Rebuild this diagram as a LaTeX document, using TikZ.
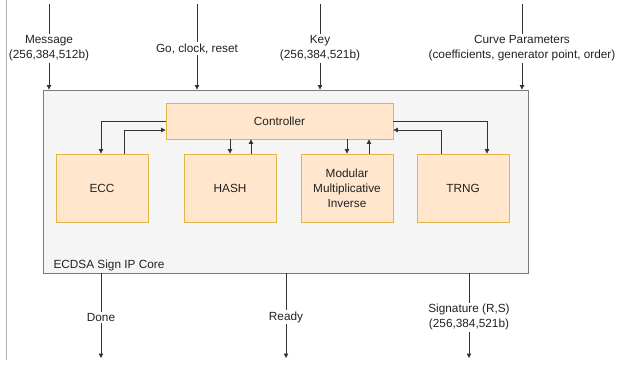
\documentclass[tikz,border=0pt]{standalone}
\usepackage{fontspec}
\setmainfont{Liberation Sans}
\usetikzlibrary{arrows.meta,calc}
\definecolor{corefill}{HTML}{F5F5F5}
\definecolor{coreline}{HTML}{7A7A7A}
\definecolor{blockfill}{HTML}{FFE6CC}
\definecolor{blockline}{HTML}{E3B448}
\definecolor{wire}{HTML}{333333}
\definecolor{txt}{HTML}{222222}
\tikzset{
  core/.style={draw=coreline, fill=corefill, line width=0.9pt, minimum width=485pt, minimum height=183pt, inner sep=0pt},
  block/.style={draw=blockline, fill=blockfill, line width=0.9pt, minimum width=92pt, minimum height=68pt, inner sep=0pt, align=center, text=txt},
  wirearrow/.style={draw=wire, line width=0.8pt, -{Triangle[length=4.5pt,width=4.5pt]}},
  sig/.style={fill=white, align=center, text=txt, inner sep=1.5pt},
}
\begin{document}
\begin{tikzpicture}[x=1pt,y=-1pt, font=\fontsize{11.8}{15}\selectfont]
\useasboundingbox (0,0) rectangle (618,367);
\fill[white] (0,0) rectangle (618,367);
% page edge on the left
\draw[draw=black!30, line width=0.8pt] (6,0) -- (6,360);

% the IP core and its blocks
\node[core] (core) at (285.5,181.5) {};
\node[anchor=base west, text=txt] (corelabel) at (50,268) {ECDSA Sign IP Core};
\node[block, minimum width=227pt, minimum height=36pt] (ctrl) at (279.5,121) {Controller};
\node[block] (ecc) at (102,188) {ECC};
\node[block] (hash) at (230,188) {HASH};
\node[block] (mmi) at (347,188) {Modular\\Multiplicative\\Inverse};
\node[block] (trng) at (463,188) {TRNG};

% taps on the block tops
\coordinate (eccdn) at ($(ecc.north)+(-1,0)$);
\coordinate (eccup) at ($(ecc.north)+(22,0)$);
\coordinate (hashup) at ($(hash.north)+(21,0)$);
\coordinate (mmiup) at ($(mmi.north)+(22,0)$);
\coordinate (trngdn) at ($(trng.north)+(24,0)$);
\coordinate (trngup) at ($(trng.north)+(-22,0)$);
\coordinate (ctrlwin) at ($(ctrl.west)+(0,9)$);
\coordinate (ctrlein) at ($(ctrl.east)+(0,9)$);

% controller <-> ECC
\draw[wirearrow] (ctrl.west) -| (eccdn);
\draw[wirearrow] (eccup) |- (ctrlwin);
% controller <-> HASH
\draw[wirearrow] (ctrl.south -| hash.north) -- (hash.north);
\draw[wirearrow] (hashup) -- (hashup |- ctrl.south);
% controller <-> modular inverse
\draw[wirearrow] (ctrl.south -| mmi.north) -- (mmi.north);
\draw[wirearrow] (mmiup) -- (mmiup |- ctrl.south);
% controller <-> TRNG
\draw[wirearrow] (ctrl.east) -| (trngdn);
\draw[wirearrow] (trngup) |- (ctrlein);

% inputs
\coordinate (msg) at (49,4);
\coordinate (go) at (197,4);
\coordinate (key) at (320,4);
\coordinate (curve) at (522,4);
\draw[wirearrow] (msg) -- (msg |- core.north) node[sig, pos=0.52] (msglbl) {Message\\(256,384,512b)};
\draw[wirearrow] (go) -- (go |- core.north) node[sig, pos=0.52] (golbl) {Go, clock, reset};
\draw[wirearrow] (key) -- (key |- core.north) node[sig, pos=0.52] (keylbl) {Key\\(256,384,521b)};
\draw[wirearrow] (curve) -- (curve |- core.north) node[sig, pos=0.52] (curvelbl) {Curve Parameters\\(coefficients, generator point, order)};

% outputs
\coordinate (done) at (101,358);
\coordinate (ready) at (286,358);
\coordinate (sign) at (469,358);
\draw[wirearrow] (done |- core.south) -- (done) node[sig, pos=0.52] (donelbl) {Done};
\draw[wirearrow] (ready |- core.south) -- (ready) node[sig, pos=0.52] (readylbl) {Ready};
\draw[wirearrow] (sign |- core.south) -- (sign) node[sig, pos=0.52] (signlbl) {Signature (R,S)\\(256,384,521b)};
\end{tikzpicture}
\end{document}
